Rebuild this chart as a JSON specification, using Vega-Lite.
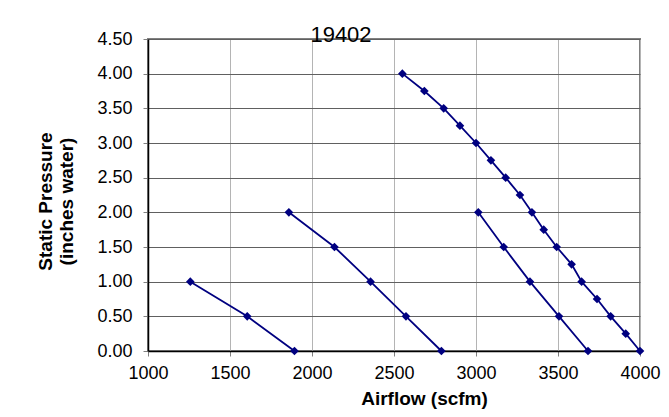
{
  "$schema": "https://vega.github.io/schema/vega-lite/v6.json",
  "width": 492,
  "height": 312,
  "autosize": "none",
  "padding": {"left": 148, "top": 39, "right": 29, "bottom": 66},
  "background": "white",
  "title": {"text": "19402", "fontSize": 22, "font": "Liberation Sans", "fontWeight": "normal", "color": "#000000", "dx": -53, "offset": -17, "anchor": "middle"},
  "data": {"values": [
    {"curve": "A", "airflow": 1258, "pressure": 1.0},
    {"curve": "A", "airflow": 1605, "pressure": 0.5},
    {"curve": "A", "airflow": 1893, "pressure": 0.0},
    {"curve": "B", "airflow": 1859, "pressure": 2.0},
    {"curve": "B", "airflow": 2137, "pressure": 1.5},
    {"curve": "B", "airflow": 2357, "pressure": 1.0},
    {"curve": "B", "airflow": 2573, "pressure": 0.5},
    {"curve": "B", "airflow": 2789, "pressure": 0.0},
    {"curve": "C", "airflow": 3014, "pressure": 2.0},
    {"curve": "C", "airflow": 3169, "pressure": 1.5},
    {"curve": "C", "airflow": 3329, "pressure": 1.0},
    {"curve": "C", "airflow": 3506, "pressure": 0.5},
    {"curve": "C", "airflow": 3683, "pressure": 0.0},
    {"curve": "D", "airflow": 2551, "pressure": 4.0},
    {"curve": "D", "airflow": 2685, "pressure": 3.75},
    {"curve": "D", "airflow": 2803, "pressure": 3.5},
    {"curve": "D", "airflow": 2902, "pressure": 3.25},
    {"curve": "D", "airflow": 3000, "pressure": 3.0},
    {"curve": "D", "airflow": 3091, "pressure": 2.75},
    {"curve": "D", "airflow": 3181, "pressure": 2.5},
    {"curve": "D", "airflow": 3268, "pressure": 2.25},
    {"curve": "D", "airflow": 3341, "pressure": 2.0},
    {"curve": "D", "airflow": 3413, "pressure": 1.75},
    {"curve": "D", "airflow": 3492, "pressure": 1.5},
    {"curve": "D", "airflow": 3583, "pressure": 1.25},
    {"curve": "D", "airflow": 3644, "pressure": 1.0},
    {"curve": "D", "airflow": 3738, "pressure": 0.75},
    {"curve": "D", "airflow": 3821, "pressure": 0.5},
    {"curve": "D", "airflow": 3913, "pressure": 0.25},
    {"curve": "D", "airflow": 4000, "pressure": 0.0}
  ]},
  "encoding": {
    "x": {
      "field": "airflow", "type": "quantitative",
      "scale": {"domain": [1000, 4000], "nice": false, "zero": false},
      "axis": {
        "title": "Airflow (scfm)",
        "values": [1000, 1500, 2000, 2500, 3000, 3500, 4000],
        "format": "d",
        "labelFlush": false, "labelOverlap": false,
        "grid": true, "gridColor": "#b4b4b4", "gridWidth": 1,
        "domainColor": "#000000", "domainWidth": 1.5,
        "tickColor": "#808080", "tickSize": 5,
        "labelFont": "Liberation Sans", "labelFontSize": 18, "labelColor": "#000000", "labelPadding": 8,
        "titleFont": "Liberation Sans", "titleFontSize": 19, "titleFontWeight": "bold", "titleColor": "#000000",
        "titlePadding": 7, "titleX": 276
      }
    },
    "y": {
      "field": "pressure", "type": "quantitative",
      "scale": {"domain": [0, 4.5], "nice": false},
      "axis": {
        "title": ["Static Pressure", "(inches water)"],
        "values": [0, 0.5, 1, 1.5, 2, 2.5, 3, 3.5, 4, 4.5],
        "format": ".2f",
        "labelOverlap": false,
        "grid": true, "gridColor": "#606060", "gridWidth": 1,
        "domainColor": "#000000", "domainWidth": 1.5,
        "tickColor": "#808080", "tickSize": 5,
        "labelFont": "Liberation Sans", "labelFontSize": 18, "labelColor": "#000000", "labelPadding": 11,
        "titleFont": "Liberation Sans", "titleFontSize": 19, "titleFontWeight": "bold", "titleColor": "#000000",
        "titleLineHeight": 21, "titlePadding": 20, "titleY": 162
      }
    }
  },
  "layer": [
    {
      "mark": {"type": "line", "color": "#000080", "strokeWidth": 1.8},
      "encoding": {"detail": {"field": "curve"}, "order": {"field": "airflow"}}
    },
    {
      "mark": {"type": "point", "shape": "diamond", "filled": true, "size": 75, "color": "#000080", "opacity": 1}
    }
  ],
  "config": {"view": {"stroke": "#808080", "strokeWidth": 2}}
}
